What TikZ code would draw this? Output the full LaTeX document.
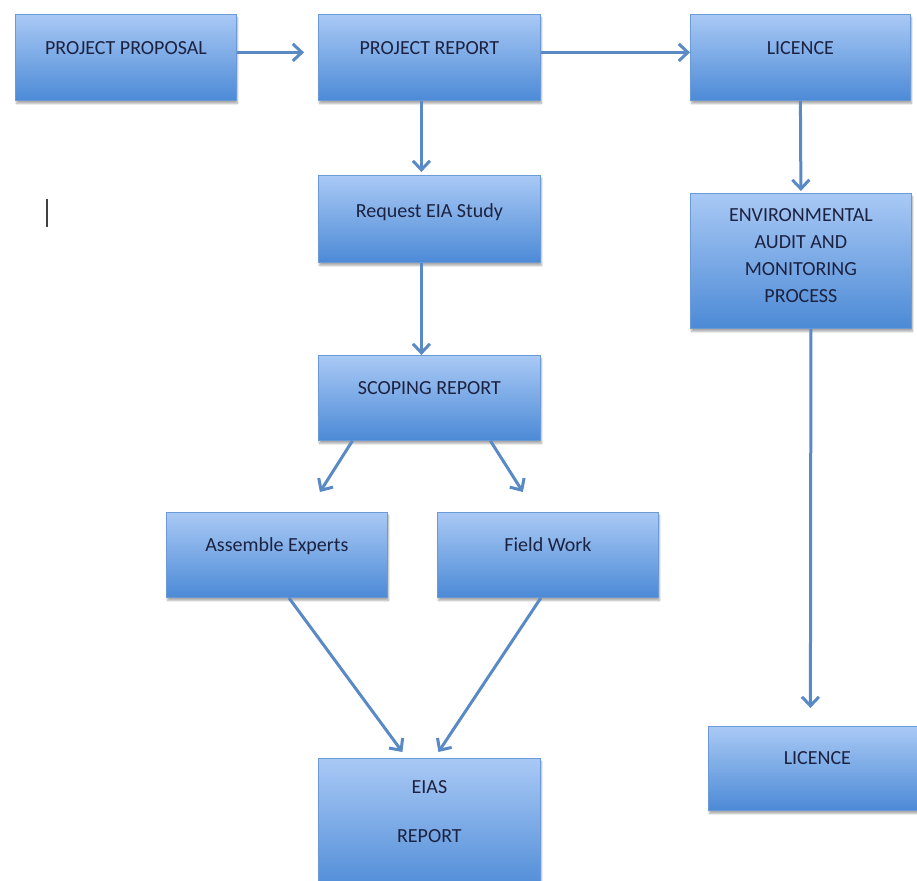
\documentclass[tikz,border=0pt]{standalone}
\usepackage{fontspec}
\setmainfont{Carlito}
\usetikzlibrary{arrows.meta,shadows.blur}

\definecolor{boxtop}{HTML}{A9C9F5}
\definecolor{boxbot}{HTML}{4C8AD6}
\definecolor{boxedge}{HTML}{6C9AD6}
\definecolor{flowline}{HTML}{5A8AC6}
\definecolor{labeltext}{HTML}{1C2240}

\tikzset{
  stagebox/.style={
    rectangle, anchor=north west, inner xsep=0pt, inner ysep=0pt,
    draw=boxedge, line width=0.8pt,
    top color=boxtop, bottom color=boxbot,
    blur shadow={shadow xshift=1pt, shadow yshift=-3pt, shadow opacity=35, shadow blur steps=6},
    text=labeltext, align=center,
    font=\fontsize{20}{24}\selectfont
  },
  flow/.style={
    draw=flowline, line width=3pt,
    -{Straight Barb[length=9pt, width=17pt, line width=3pt]}
  }
}

% a box spanning left..right and top..bottom, with the first text baseline at base
\newcommand{\stage}[7]{%
  \node[stagebox, minimum width=#3-#2, text height=#6-#4, text depth=#5-#6]
    (#1) at (#2,#4) {#7};}

\begin{document}
\begin{tikzpicture}[x=1pt, y=-1pt]
  \useasboundingbox (0,0) rectangle (917,880);

  % top row
  \stage{proposal}{15}{236}{14}{100}{54}{PROJECT PROPOSAL}
  \stage{projrep}{318}{540}{14}{100}{54}{PROJECT REPORT}
  \stage{licence}{690}{910}{14}{100}{54}{LICENCE}

  % EIA branch
  \stage{request}{318}{540}{175}{262}{217}{Request EIA Study}
  \stage{scoping}{318}{540}{355}{440}{394}{SCOPING REPORT}
  \stage{experts}{166}{387}{512}{597}{551}{Assemble Experts}
  \stage{field}{437}{658}{512}{597}{551}{Field Work}
  \stage{eias}{318}{540}{758}{895}{793}{%
    \begin{tabular}[t]{@{}c@{}}EIAS\\[25pt]REPORT\end{tabular}}

  % monitoring branch
  \stage{audit}{690}{911}{193}{328}{221}{%
    \begin{tabular}[t]{@{}c@{}}ENVIRONMENTAL\\[3pt]AUDIT AND\\[3pt]MONITORING\\[3pt]PROCESS\end{tabular}}
  \stage{licence2}{708}{926}{726}{810}{764}{LICENCE}

  % connectors
  \draw[flow] ([yshift=5pt]proposal.east) -- ([xshift=-14pt,yshift=5pt]projrep.west);
  \draw[flow] ([yshift=5pt]projrep.east) -- ([yshift=5pt]licence.west);
  \draw[flow] ([xshift=-8pt]projrep.south) -- ([xshift=-8pt,yshift=3pt]request.north);
  \draw[flow] ([xshift=-8pt]request.south) -- ([xshift=-8pt]scoping.north);
  \draw[flow] (licence.south) -- ([yshift=2pt]audit.north);
  \draw[flow] ([xshift=10pt]audit.south) -- ([xshift=-7pt,yshift=18pt]licence2.north);
  \draw[flow] ([xshift=-77pt]scoping.south) -- ([xshift=43pt,yshift=20pt]experts.north);
  \draw[flow] ([xshift=61pt]scoping.south) -- ([xshift=-25pt,yshift=20pt]field.north);
  \draw[flow] ([xshift=12pt]experts.south) -- ([xshift=-27pt,yshift=6pt]eias.north);
  \draw[flow] ([xshift=-7pt]field.south) -- ([xshift=9pt,yshift=6pt]eias.north);

  % text cursor mark
  \draw[line width=1.6pt, black!75] (47,199) -- (47,227);
\end{tikzpicture}
\end{document}
